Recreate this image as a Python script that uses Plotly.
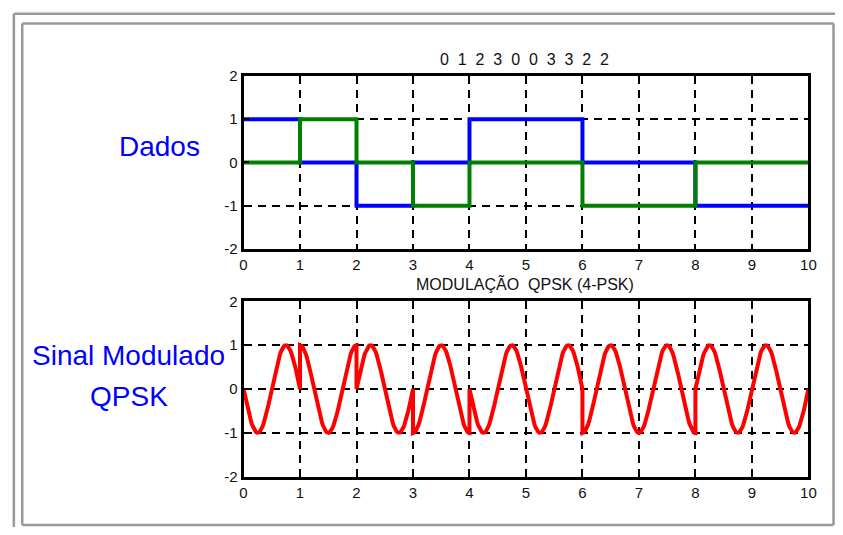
import numpy as np
import plotly.graph_objects as go

# ---- data ----
symbols = [0, 1, 2, 3, 0, 0, 3, 3, 2, 2]
I_vals = [1, 0, -1, 0, 1, 1, 0, 0, -1, -1]   # blue
Q_vals = [0, 1, 0, -1, 0, 0, -1, -1, 0, 0]   # green
t_edges = list(range(0, 11))
x_ticks = list(range(0, 11))
y_ticks = [-2, -1, 0, 1, 2]
carrier_cycles_per_symbol = 1
samples_per_symbol = 60

W, H = 843, 535

def px(x):
    return x / W

def py(y):
    return 1 - y / H

# modulated QPSK waveform from the I/Q symbol values
t_mod, s_mod = [], []
for k, (i_v, q_v) in enumerate(zip(I_vals, Q_vals)):
    tt = np.linspace(k, k + 1, samples_per_symbol)
    ss = q_v * np.cos(2 * np.pi * carrier_cycles_per_symbol * tt) - i_v * np.sin(2 * np.pi * carrier_cycles_per_symbol * tt)
    t_mod.extend(tt.tolist())
    s_mod.extend(ss.tolist())

fig = go.Figure()

fig.add_trace(go.Scatter(x=t_edges, y=I_vals + [I_vals[-1]], mode="lines",
                         line=dict(color="#0000ff", width=4, shape="hv"),
                         xaxis="x", yaxis="y", showlegend=False))
fig.add_trace(go.Scatter(x=t_edges, y=Q_vals + [Q_vals[-1]], mode="lines",
                         line=dict(color="#008000", width=4, shape="hv"),
                         xaxis="x", yaxis="y", showlegend=False))
fig.add_trace(go.Scatter(x=t_mod, y=s_mod, mode="lines",
                         line=dict(color="#ff0000", width=4),
                         xaxis="x2", yaxis="y2", showlegend=False))

small_family = "Liberation Sans Narrow, Arial Narrow, Liberation Sans, sans-serif"
tick_font = dict(family=small_family, size=15, color="#111")

def xaxis_cfg(anchor):
    return dict(domain=[px(243), px(816)], range=[0, 10], anchor=anchor,
                tickmode="array", tickvals=x_ticks, ticktext=[str(v) for v in x_ticks],
                showgrid=True, gridcolor="black", gridwidth=1.5, griddash="8px,6px",
                showline=True, linecolor="black", linewidth=3, mirror=True,
                ticks="inside", ticklen=5, tickwidth=2, tickcolor="black",
                zeroline=False, tickfont=tick_font, fixedrange=True)

def yaxis_cfg(anchor, top, bottom):
    return dict(domain=[py(bottom), py(top)], range=[-2, 2], anchor=anchor,
                tickmode="array", tickvals=y_ticks, ticktext=[str(v) for v in y_ticks],
                showgrid=True, gridcolor="black", gridwidth=1.5, griddash="8px,6px",
                showline=True, linecolor="black", linewidth=3, mirror=True,
                ticks="inside", ticklen=5, tickwidth=2, tickcolor="black",
                zeroline=False, tickfont=tick_font, fixedrange=True)

fig.update_layout(
    autosize=True,
    margin=dict(l=0, r=0, t=0, b=0),
    paper_bgcolor="white", plot_bgcolor="white",
    xaxis=xaxis_cfg("y"),
    yaxis=yaxis_cfg("x", 69, 248),
    xaxis2=xaxis_cfg("y2"),
    yaxis2=yaxis_cfg("x2", 302, 483),
    showlegend=False,
)

title_font = dict(family=small_family, size=16, color="#111")
label_font = dict(family="Liberation Sans, Arial, sans-serif", size=28, color="#0000ff")

annotations = [
    dict(text="  ".join(str(s) for s in symbols), x=px(528), y=py(52), font=title_font),
    dict(text="MODULAÇÃO  QPSK (4-PSK)", x=px(529), y=py(284), font=title_font),
    dict(text="Dados", x=px(158), y=py(142), font=label_font),
    dict(text="Sinal Modulado", x=px(126), y=py(358), font=label_font),
    dict(text="QPSK", x=px(127), y=py(400), font=label_font),
]
for a in annotations:
    a.update(xref="paper", yref="paper", showarrow=False, xanchor="center", yanchor="middle")
fig.update_layout(annotations=annotations)

# window frame (gray double border)
frame_color = "#999999"
frame = [
    (px(10), py(5), 1.0, py(5)),
    (px(10), py(5), px(10), 0.0),
    (px(18.5), py(15), px(841.5), py(15)),
    (px(18.5), py(15), px(18.5), py(533)),
    (px(841.5), py(15), px(841.5), py(533)),
    (px(18.5), py(533), px(841.5), py(533)),
]
fig.update_layout(shapes=[dict(type="line", xref="paper", yref="paper", x0=a, y0=b, x1=c, y1=d,
                               line=dict(color=frame_color, width=2.5)) for a, b, c, d in frame])

# the figure div fills the whole 843x535 window (cancels the page's default body margin)
fig.write_html("out.html", config={"displayModeBar": False},
               default_width="843px", default_height="535px; margin:-8px")
